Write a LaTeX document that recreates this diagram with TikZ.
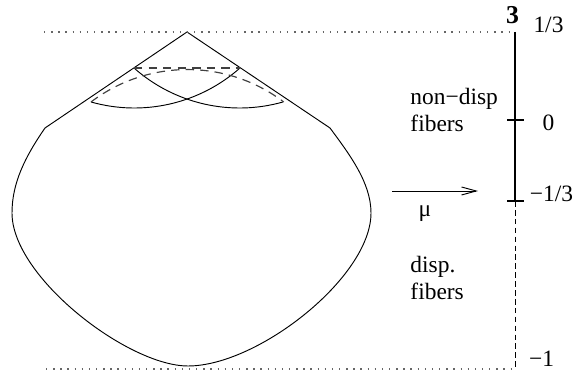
\documentclass[tikz,border=0pt]{standalone}
\usepackage{fontspec}
\setmainfont{Liberation Serif}
\usetikzlibrary{arrows.meta}

\begin{document}
\begin{tikzpicture}[x=0.15mm,y=0.15mm,
	guide/.style={black!60,line width=0.6pt,dash pattern=on 0.6pt off 2.45pt},
	back/.style={black!75,line width=0.5pt,dash pattern=on 3.6pt off 2.6pt},
	lbl/.style={inner sep=0pt,font=\fontsize{10}{11.6}\selectfont}]
	\useasboundingbox (0,0) rectangle (577,379);
	% cone and body
	\coordinate (apex) at (187,347);
	\coordinate (lsh) at (45,251);
	\coordinate (rsh) at (330,251);
	\coordinate (low) at (188,13);
	\draw (lsh) -- (apex) -- (rsh);
	\draw (lsh) .. controls (25,222) and (12,196) .. (12,166)
		.. controls (12,102) and (128,13) .. (low)
		.. controls (258,13) and (371,102) .. (371,166)
		.. controls (371,196) and (350,224) .. (rsh);
	% circles on the cone
	\coordinate (lfront) at (134,311);
	\coordinate (rfront) at (240,311);
	\coordinate (lend) at (91,277);
	\draw (lfront) arc[start angle=228.5,end angle=285.8,radius=159.4];
	\draw (rfront) arc[start angle=311.5,end angle=254.2,radius=159.4];
	\draw[back] (lfront) -- (rfront);
	\draw[back] (lend) arc[start angle=127.2,end angle=52.8,radius=159.4];
	% levels
	\coordinate (gtop) at (44,347);
	\coordinate (gbot) at (46,10);
	\coordinate (atop) at (515,347);
	\coordinate (amid) at (515,178);
	\coordinate (abot) at (515,11);
	\draw[guide] (gtop) -- (512,347);
	\draw[guide] (gbot) -- (512,10);
	\draw[line width=0.9pt] (atop) -- (amid);
	\draw[dash pattern=on 2.4pt off 1.4pt] (amid) -- (abot);
	\draw[line width=0.6pt] (507,259) -- (524,259);
	\draw[line width=0.6pt] (507,178) -- (524,178);
	\node[lbl,font=\fontsize{11}{12}\selectfont\bfseries] (three) at (512.5,364) {3};
	\node[lbl] (vtop) at (548.5,354.5) {1/3};
	\node[lbl] (vzero) at (548.5,256.5) {0};
	\node[lbl] (vmid) at (551.5,185) {−1/3};
	\node[lbl] (vbot) at (541.5,20) {−1};
	\node[lbl,align=left,anchor=north west] (ndisp) at (410,291) {non−disp\\fibers};
	\node[lbl,align=left,anchor=north west] (disp) at (410,123) {disp.\\fibers};
	% map
	\coordinate (mfrom) at (392,188);
	\coordinate (mto) at (478,188);
	\draw[-{Straight Barb[length=2.2mm,width=1.2mm]}] (mfrom) -- (mto);
	\node[lbl] (mu) at (425,165) {μ};
\end{tikzpicture}
\end{document}
